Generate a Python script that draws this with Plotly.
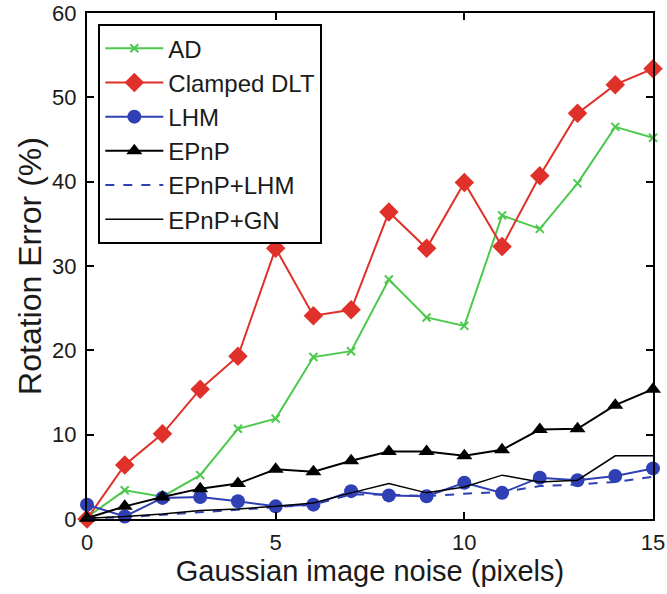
import plotly.graph_objects as go

noise = list(range(16))
ad = [0.2, 3.4, 2.65, 5.2, 10.7, 11.9, 19.2, 19.9, 28.4, 23.9, 22.9, 36.0, 34.4, 39.8, 46.5, 45.2]
clamped_dlt = [0.0, 6.4, 10.1, 15.4, 19.3, 32.1, 24.1, 24.8, 36.4, 32.1, 39.9, 32.3, 40.7, 48.1, 51.5, 53.4]
lhm = [1.7, 0.3, 2.5, 2.6, 2.1, 1.5, 1.7, 3.3, 2.8, 2.7, 4.3, 3.1, 4.9, 4.6, 5.1, 6.0]
epnp = [0.1, 1.5, 2.6, 3.6, 4.2, 5.9, 5.6, 6.9, 8.0, 8.0, 7.5, 8.2, 10.6, 10.7, 13.5, 15.4]
epnp_lhm = [0.1, 0.2, 0.5, 0.8, 1.1, 1.4, 1.7, 2.9, 2.9, 2.7, 3.0, 3.2, 3.9, 4.1, 4.4, 5.0]
epnp_gn = [0.1, 0.3, 0.6, 1.0, 1.2, 1.5, 1.9, 3.1, 4.2, 3.1, 3.8, 5.2, 4.4, 4.6, 7.5, 7.5]

x_ticks = [0, 5, 10, 15]
y_ticks = [0, 10, 20, 30, 40, 50, 60]

GREEN = "#4cc94c"
RED = "#e0302a"
BLUE = "#2f40b4"
BLACK = "#000000"

fig = go.Figure()
fig.add_trace(go.Scatter(x=noise, y=ad, name="AD", mode="lines+markers",
                         line=dict(color=GREEN, width=2),
                         marker=dict(symbol="x-thin", size=8, line=dict(color=GREEN, width=2)),
                         cliponaxis=False))
fig.add_trace(go.Scatter(x=noise, y=clamped_dlt, name="Clamped DLT", mode="lines+markers",
                         line=dict(color=RED, width=2),
                         marker=dict(symbol="diamond", size=15, color=RED),
                         cliponaxis=False))
fig.add_trace(go.Scatter(x=noise, y=lhm, name="LHM", mode="lines+markers",
                         line=dict(color=BLUE, width=2),
                         marker=dict(symbol="circle", size=14, color=BLUE),
                         cliponaxis=False))
fig.add_trace(go.Scatter(x=noise, y=epnp, name="EPnP", mode="lines+markers",
                         line=dict(color=BLACK, width=2),
                         marker=dict(symbol="triangle-up", size=14, color=BLACK),
                         cliponaxis=False))
fig.add_trace(go.Scatter(x=noise, y=epnp_lhm, name="EPnP+LHM", mode="lines",
                         line=dict(color=BLUE, width=2, dash="dash"),
                         cliponaxis=False))
fig.add_trace(go.Scatter(x=noise, y=epnp_gn, name="EPnP+GN", mode="lines",
                         line=dict(color=BLACK, width=1.5),
                         cliponaxis=False))

font_family = "Liberation Sans, Arial, sans-serif"
fig.update_layout(
    width=667, height=594,
    margin=dict(l=87, r=14, t=13, b=75, autoexpand=False),
    plot_bgcolor="white", paper_bgcolor="white",
    font=dict(family=font_family, color="#1a1a1a", size=22),
    showlegend=True,
    legend=dict(x=0.02, y=0.978, xanchor="left", yanchor="top",
                bgcolor="white", bordercolor="black", borderwidth=2,
                font=dict(size=24, family=font_family, color="#1a1a1a"),
                itemwidth=58, tracegroupgap=0),
    xaxis=dict(range=[0, 15], tickvals=x_ticks, ticks="inside", ticklen=7,
               tickwidth=1.5, tickcolor="black", automargin=False,
               showline=True, linecolor="black", linewidth=2, mirror="ticks",
               showgrid=False, zeroline=False,
               tickfont=dict(size=22), ticklabelstandoff=3,
               title=dict(text="Gaussian image noise (pixels)", font=dict(size=29), standoff=0)),
    yaxis=dict(range=[0, 60], tickvals=y_ticks, ticks="inside", ticklen=7,
               tickwidth=1.5, tickcolor="black", automargin=False,
               showline=True, linecolor="black", linewidth=2, mirror="ticks",
               showgrid=False, zeroline=False,
               tickfont=dict(size=22), ticklabelstandoff=4,
               title=dict(text="Rotation Error (%)", font=dict(size=32), standoff=1)),
)

fig.write_html(
    "out.html",
    config={"displayModeBar": False},
    post_script="document.body.style.margin='0';document.body.style.overflow='hidden';",
)
